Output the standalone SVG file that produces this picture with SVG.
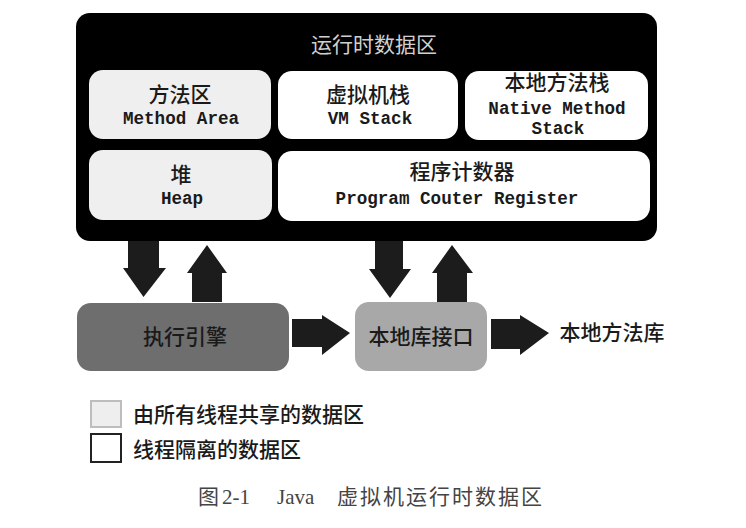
<svg xmlns="http://www.w3.org/2000/svg" width="746" height="528" viewBox="0 0 746 528">
<style>
.cjk{font-family:"Noto Sans CJK SC","Noto Sans",sans-serif;font-size:21px;font-weight:500;text-anchor:middle;fill:#1a1a1a}
.mono{font-family:"Liberation Mono","DejaVu Sans Mono",monospace;font-size:17.6px;font-weight:bold;text-anchor:middle;fill:#1a1a1a}
.shared{fill:#efefef}
.private{fill:#ffffff}
.arrow{fill:#1c1c1c}
</style>
<rect width="746" height="528" fill="#ffffff"/>
<g id="runtime-data-area">
<rect x="76" y="13" width="581" height="228" rx="14" fill="#000000"/>
<text class="cjk" x="374" y="52" style="fill:#d0d0d0;font-weight:400">运行时数据区</text>
</g>
<g id="method-area">
<rect class="shared" x="89" y="70" width="182" height="69" rx="14"/>
<text class="cjk" x="180" y="102">方法区</text>
<text class="mono" x="181" y="124">Method Area</text>
</g>
<g id="vm-stack">
<rect class="private" x="278" y="71" width="180" height="68" rx="14"/>
<text class="cjk" x="368" y="102">虚拟机栈</text>
<text class="mono" x="370" y="124">VM Stack</text>
</g>
<g id="native-method-stack">
<rect class="private" x="465" y="71" width="183" height="69" rx="14"/>
<text class="cjk" x="557" y="90">本地方法栈</text>
<text class="mono" x="557" y="114">Native Method</text>
<text class="mono" x="558" y="134">Stack</text>
</g>
<g id="heap">
<rect class="shared" x="89" y="150" width="183" height="70" rx="14"/>
<text class="cjk" x="181" y="182">堆</text>
<text class="mono" x="182" y="204">Heap</text>
</g>
<g id="program-counter-register">
<rect class="private" x="278" y="151" width="372" height="70" rx="14"/>
<text class="cjk" x="462" y="179">程序计数器</text>
<text class="mono" x="457" y="204">Program Couter Register</text>
</g>
<g id="execution-engine">
<rect x="77" y="303" width="212" height="68" rx="14" fill="#6e6e6e"/>
<text class="cjk" x="185" y="344">执行引擎</text>
</g>
<g id="native-interface">
<rect x="355" y="302" width="132" height="69" rx="14" fill="#a8a8a8"/>
<text class="cjk" x="421" y="344">本地库接口</text>
</g>
<g id="native-library">
<text class="cjk" x="612" y="340">本地方法库</text>
</g>
<g id="connectors">
<polygon class="arrow" points="128,241 159,241 159,268 166,268 143.5,297 123,268 128,268"/>
<polygon class="arrow" points="207,245 227,273 222,273 222,302 192,302 192,273 187,273"/>
<polygon class="arrow" points="375,241 403,241 403,269 411,269 390,298 369,269 375,269"/>
<polygon class="arrow" points="452,245 473,273 467,273 467,302 437,302 437,273 432,273"/>
<polygon class="arrow" points="292,319 322,319 322,315 350,333 322,355 322,347 292,347"/>
<polygon class="arrow" points="491,319 520,319 520,315 549,333 520,355 520,349 491,349"/>
</g>
<g id="legend">
<rect x="91" y="401" width="30" height="26" fill="#eeeeee" stroke="#bdbdbd" stroke-width="2"/>
<text class="cjk" x="133" y="422" style="text-anchor:start">由所有线程共享的数据区</text>
<rect x="91" y="434" width="30" height="28" fill="#ffffff" stroke="#222222" stroke-width="2"/>
<text class="cjk" x="133" y="457" style="text-anchor:start">线程隔离的数据区</text>
</g>
<g id="caption">
<text x="198" y="504" style="font-family:'Liberation Serif','Noto Sans CJK SC',serif;font-size:21px;fill:#444444"><tspan x="198">图</tspan><tspan x="222">2-1</tspan><tspan x="277">Java</tspan><tspan x="337" letter-spacing="2">虚拟机运行时数据区</tspan></text>
</g>
</svg>
